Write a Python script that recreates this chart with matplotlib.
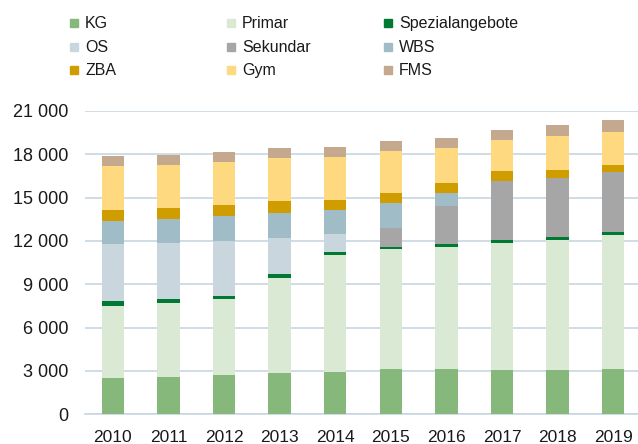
import numpy as np
import matplotlib.pyplot as plt
from matplotlib.patches import Rectangle

plt.rcParams['font.family'] = ['Liberation Sans', 'DejaVu Sans']

years = ['2010', '2011', '2012', '2013', '2014', '2015', '2016', '2017', '2018', '2019']

# Schülerzahlen je Stufe (von unten nach oben gestapelt)
kg = [2510, 2580, 2720, 2840, 2950, 3120, 3120, 3070, 3070, 3140]
primar = [4990, 5150, 5260, 6620, 8060, 8330, 8490, 8810, 9020, 9260]
spezial = [350, 250, 210, 230, 210, 160, 180, 190, 210, 220]
os_ = [3940, 3880, 3810, 2520, 1270, 0, 0, 0, 0, 0]
sekundar = [0, 0, 0, 0, 0, 1320, 2650, 4060, 4040, 4140]
wbs = [1600, 1660, 1730, 1730, 1680, 1690, 860, 0, 0, 0]
zba = [760, 770, 760, 850, 690, 730, 740, 720, 600, 500]
gym = [3050, 2970, 2980, 2980, 2980, 2910, 2420, 2170, 2350, 2310]
fms = [690, 700, 670, 650, 650, 670, 690, 650, 720, 810]

series = [
    ('KG', kg, '#86b77b'),
    ('Primar', primar, '#d9e9d3'),
    ('Spezialangebote', spezial, '#007a33'),
    ('OS', os_, '#c9d6de'),
    ('Sekundar', sekundar, '#a6a6a6'),
    ('WBS', wbs, '#9fbcc7'),
    ('ZBA', zba, '#cf9d00'),
    ('Gym', gym, '#ffd97f'),
    ('FMS', fms, '#c4a98e'),
]

yticks = [0, 3000, 6000, 9000, 12000, 15000, 18000, 21000]
grid_col = '#c8d7df'

fig = plt.figure(figsize=(6.38, 4.44), dpi=100)
ax = fig.add_axes([85 / 638, 29.7 / 444, 556 / 638, 303.3 / 444])

x = np.arange(len(years))
bottom = np.zeros(len(years))
for name, vals, col in series:
    vals = np.array(vals, dtype=float)
    ax.bar(x, vals, 0.4, bottom=bottom, color=col, label=name, zorder=3)
    bottom += vals

ax.set_xlim(-0.5, 9.5)
ax.set_ylim(0, 21000)
ax.set_xticks(x)
ax.set_xticklabels(years, fontsize=12.5)
ax.set_yticks(yticks)
ax.set_yticklabels([f'{v:,}'.replace(',', ' ') for v in yticks], fontsize=13)
ax.tick_params(axis='both', length=0, colors='#1a1a1a')
ax.tick_params(axis='y', pad=12)
ax.tick_params(axis='x', pad=11.5)

ax.yaxis.grid(True, color=grid_col, linewidth=1.2, zorder=0)
ax.set_axisbelow(True)
for s in ['top', 'right', 'left']:
    ax.spines[s].set_visible(False)
ax.spines['bottom'].set_color(grid_col)
ax.spines['bottom'].set_linewidth(1.2)

# Legende: 3 Spalten, zeilenweise
for i, (name, vals, col) in enumerate(series):
    row, c = divmod(i, 3)
    px = 70 + c * 157
    py = 23.5 + row * 23.5
    fig.add_artist(Rectangle((px / 638, 1 - (py + 4) / 444), 8 / 638, 8 / 444,
                             color=col, transform=fig.transFigure))
    fig.text((px + 15) / 638, 1 - py / 444, name, fontsize=11.5,
             va='center', ha='left', color='#1a1a1a')

fig.savefig('out.png', dpi=100)
